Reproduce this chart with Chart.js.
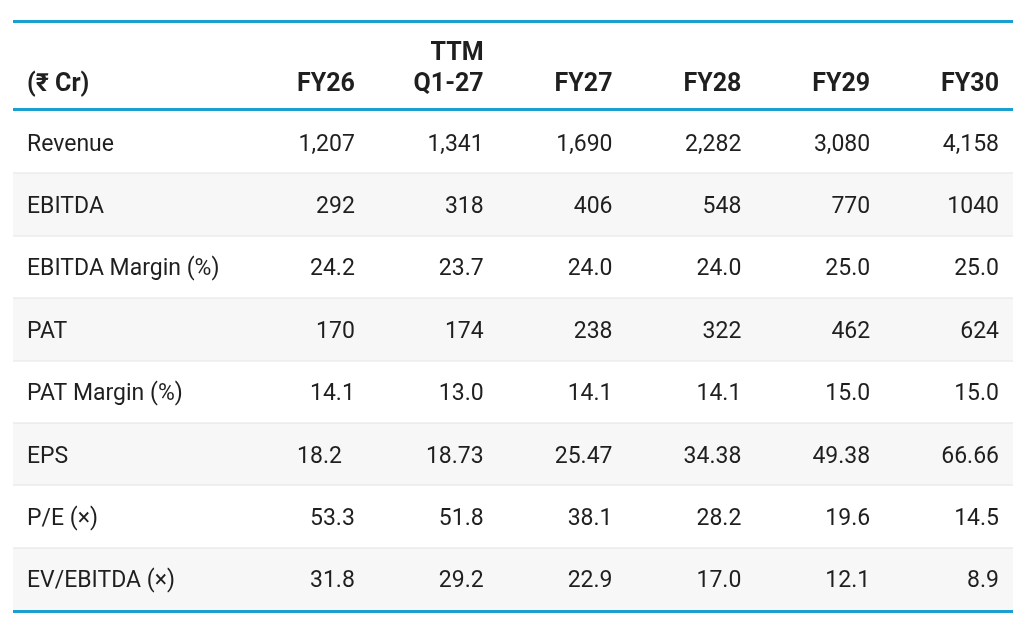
<!DOCTYPE html>
<html>
<head>
<meta charset="utf-8">
<script src="https://cdn.jsdelivr.net/npm/chart.js@4.4.0/dist/chart.umd.min.js"></script>
<style>
  html, body { margin: 0; padding: 0; background: #fff; }
  #wrap { width: 1017px; height: 620px; position: relative; }
</style>
</head>
<body>
<div id="wrap"><canvas id="finTable"></canvas></div>
<script>
// table content
const unitLabel = '(₹ Cr)';
const columns = [['FY26'], ['TTM', 'Q1-27'], ['FY27'], ['FY28'], ['FY29'], ['FY30']];
const rowLabels = ['Revenue', 'EBITDA', 'EBITDA Margin (%)', 'PAT', 'PAT Margin (%)', 'EPS', 'P/E (×)', 'EV/EBITDA (×)'];

const revenue      = ['1,207', '1,341', '1,690', '2,282', '3,080', '4,158'];
const ebitda       = ['292', '318', '406', '548', '770', '1040'];
const ebitdaMargin = ['24.2', '23.7', '24.0', '24.0', '25.0', '25.0'];
const pat          = ['170', '174', '238', '322', '462', '624'];
const patMargin    = ['14.1', '13.0', '14.1', '14.1', '15.0', '15.0'];
const eps          = ['18.2\u2007', '18.73', '25.47', '34.38', '49.38', '66.66'];
const pe           = ['53.3', '51.8', '38.1', '28.2', '19.6', '14.5'];
const evEbitda     = ['31.8', '29.2', '22.9', '17.0', '12.1', '8.9'];

const rowValues = [revenue, ebitda, ebitdaMargin, pat, patMargin, eps, pe, evEbitda];

const BLUE = '#1a9fd0';
const TEXT = '#1f1f1f';
const tableLeft = 13, tableRight = 1013;

const tablePlugin = {
    id: 'tablePlugin',
    beforeDatasetsDraw(chart) {
        const ctx = chart.ctx;
        const y = chart.scales.y;
        const area = chart.chartArea;
        const band = (area.bottom - area.top) / rowLabels.length;
        ctx.save();
        rowLabels.forEach((label, i) => {
            const cy = y.getPixelForValue(i);
            if (i % 2 === 1) {
                ctx.fillStyle = '#f7f7f7';
                ctx.fillRect(tableLeft, cy - band / 2, tableRight - tableLeft, band);
            }
            if (i > 0) {
                ctx.fillStyle = '#e4e4e4';
                ctx.fillRect(tableLeft, Math.round(cy - band / 2) - 0.5, tableRight - tableLeft, 1);
            }
        });
        // header and outer rules
        ctx.fillStyle = BLUE;
        ctx.fillRect(tableLeft, 20, tableRight - tableLeft, 3);
        ctx.fillRect(tableLeft, area.top - 3, tableRight - tableLeft, 3);
        ctx.fillRect(tableLeft, area.bottom, tableRight - tableLeft, 3);
        ctx.restore();
    },
    afterDatasetsDraw(chart) {
        const ctx = chart.ctx;
        const x = chart.scales.x;
        const area = chart.chartArea;
        ctx.save();
        ctx.fillStyle = TEXT;
        ctx.textBaseline = 'alphabetic';

        // header
        const headBase = area.top - 20;
        ctx.font = 'bold 25px Roboto';
        ctx.textAlign = 'left';
        ctx.fillText(unitLabel, tableLeft + 14, headBase);
        ctx.textAlign = 'right';
        columns.forEach((lines, i) => {
            const px = x.getPixelForValue(i + 1);
            lines.slice().reverse().forEach((t, k) => {
                ctx.fillText(t, px, headBase - k * 31);
            });
        });

        // body cells, positioned by the dataset points
        ctx.font = '23px Roboto';
        chart.data.datasets.forEach((ds, di) => {
            const meta = chart.getDatasetMeta(di);
            ctx.textAlign = 'left';
            ctx.fillText(ds.label, tableLeft + 14, meta.data[0].y + 8.5);
            ctx.textAlign = 'right';
            meta.data.forEach((pt, j) => {
                ctx.fillText(ds.cells[j], pt.x, pt.y + 8.5);
            });
        });
        ctx.restore();
    }
};

new Chart(document.getElementById('finTable'), {
    type: 'scatter',
    data: {
        datasets: rowLabels.map((label, i) => ({
            label: label,
            cells: rowValues[i],
            data: rowValues[i].map((v, j) => ({ x: j + 1, y: label })),
            pointRadius: 0,
            pointHoverRadius: 0
        }))
    },
    options: {
        responsive: true,
        maintainAspectRatio: false,
        animation: false,
        events: [],
        layout: { padding: { left: 226, right: 18, top: 111, bottom: 10 } },
        plugins: { legend: { display: false }, tooltip: { enabled: false } },
        scales: {
            x: { type: 'linear', min: 0, max: 6, display: false },
            y: { type: 'category', labels: rowLabels, offset: true, display: false }
        }
    },
    plugins: [tablePlugin]
});
</script>
</body>
</html>
